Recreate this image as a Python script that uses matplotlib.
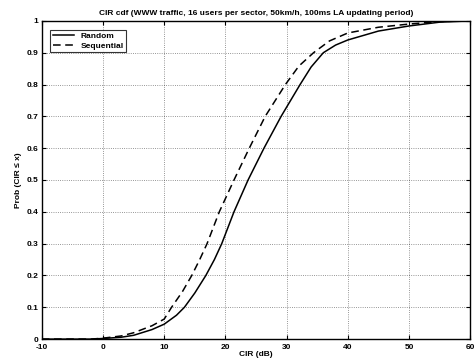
import matplotlib
matplotlib.use("Agg")
import matplotlib.pyplot as plt

# CIR (dB) vs cumulative probability
random_cir = [-10, -2, 0, 3, 5, 8, 10, 12, 13.3, 15, 16.8, 18.2, 19.4, 21.4, 23.7, 26.3, 29.1, 32.2, 34.0, 36.0, 38.0, 40, 45, 50, 55, 60]
random_p = [0, 0, 0.002, 0.006, 0.012, 0.03, 0.047, 0.075, 0.1, 0.145, 0.2, 0.25, 0.3, 0.4, 0.5, 0.6, 0.7, 0.8, 0.855, 0.9, 0.924, 0.94, 0.968, 0.984, 0.996, 1.0]

seq_cir = [-10, -2, 0, 3, 5, 8, 10, 11.2, 13, 14.5, 15.8, 17.0, 19.0, 21.4, 23.9, 26.5, 29.8, 32.0, 34.4, 37.0, 40, 45, 50, 55, 60]
seq_p = [0, 0, 0.003, 0.01, 0.02, 0.042, 0.063, 0.1, 0.15, 0.2, 0.25, 0.3, 0.4, 0.5, 0.6, 0.7, 0.8, 0.858, 0.9, 0.937, 0.962, 0.98, 0.99, 0.998, 1.0]

x_ticks = [-10, 0, 10, 20, 30, 40, 50, 60]
y_ticks = [0, 0.1, 0.2, 0.3, 0.4, 0.5, 0.6, 0.7, 0.8, 0.9, 1]

plt.rcParams['font.family'] = ['Liberation Sans', 'DejaVu Sans']

fig = plt.figure(figsize=(4.75, 3.6), dpi=100)
ax = fig.add_axes([0.088, 0.058, 0.902, 0.884])

ax.plot(random_cir, random_p, color='black', lw=1.1, ls='-', label='Random')
ax.plot(seq_cir, seq_p, color='black', lw=1.1, ls=(0, (5, 3)), label='Sequential')

ax.set_xlim(-10, 60)
ax.set_ylim(0, 1)
ax.set_xticks(x_ticks)
ax.set_yticks(y_ticks)
ax.set_xticklabels([str(t) for t in x_ticks], fontsize=6, fontweight='bold')
ax.set_yticklabels(['0'] + [f'{t:.1f}' for t in y_ticks[1:-1]] + ['1'], fontsize=6, fontweight='bold')
ax.tick_params(direction='in', length=3, width=0.8, top=True, right=True)
ax.tick_params(axis='x', pad=3.5)
ax.tick_params(axis='y', pad=2.5)
ax.grid(True, ls=':', color='black', lw=0.6, alpha=0.55)
for s in ax.spines.values():
    s.set_linewidth(1.0)

ax.set_title('CIR cdf (WWW traffic, 16 users per sector, 50km/h, 100ms LA updating period)',
             fontsize=6, fontweight='bold', pad=4)
ax.set_xlabel('CIR (dB)', fontsize=6, fontweight='bold', labelpad=0)
ax.set_ylabel('Prob (CIR \u2264 x)', fontsize=6, fontweight='bold', labelpad=3)

leg = ax.legend(loc='upper left', prop={'weight': 'bold', 'size': 6},
                frameon=True, fancybox=False, edgecolor='black', handlelength=2.5,
                borderpad=0.3, labelspacing=0.2, bbox_to_anchor=(0.01, 0.985))
leg.get_frame().set_linewidth(0.8)

fig.savefig('out.png', dpi=100)
